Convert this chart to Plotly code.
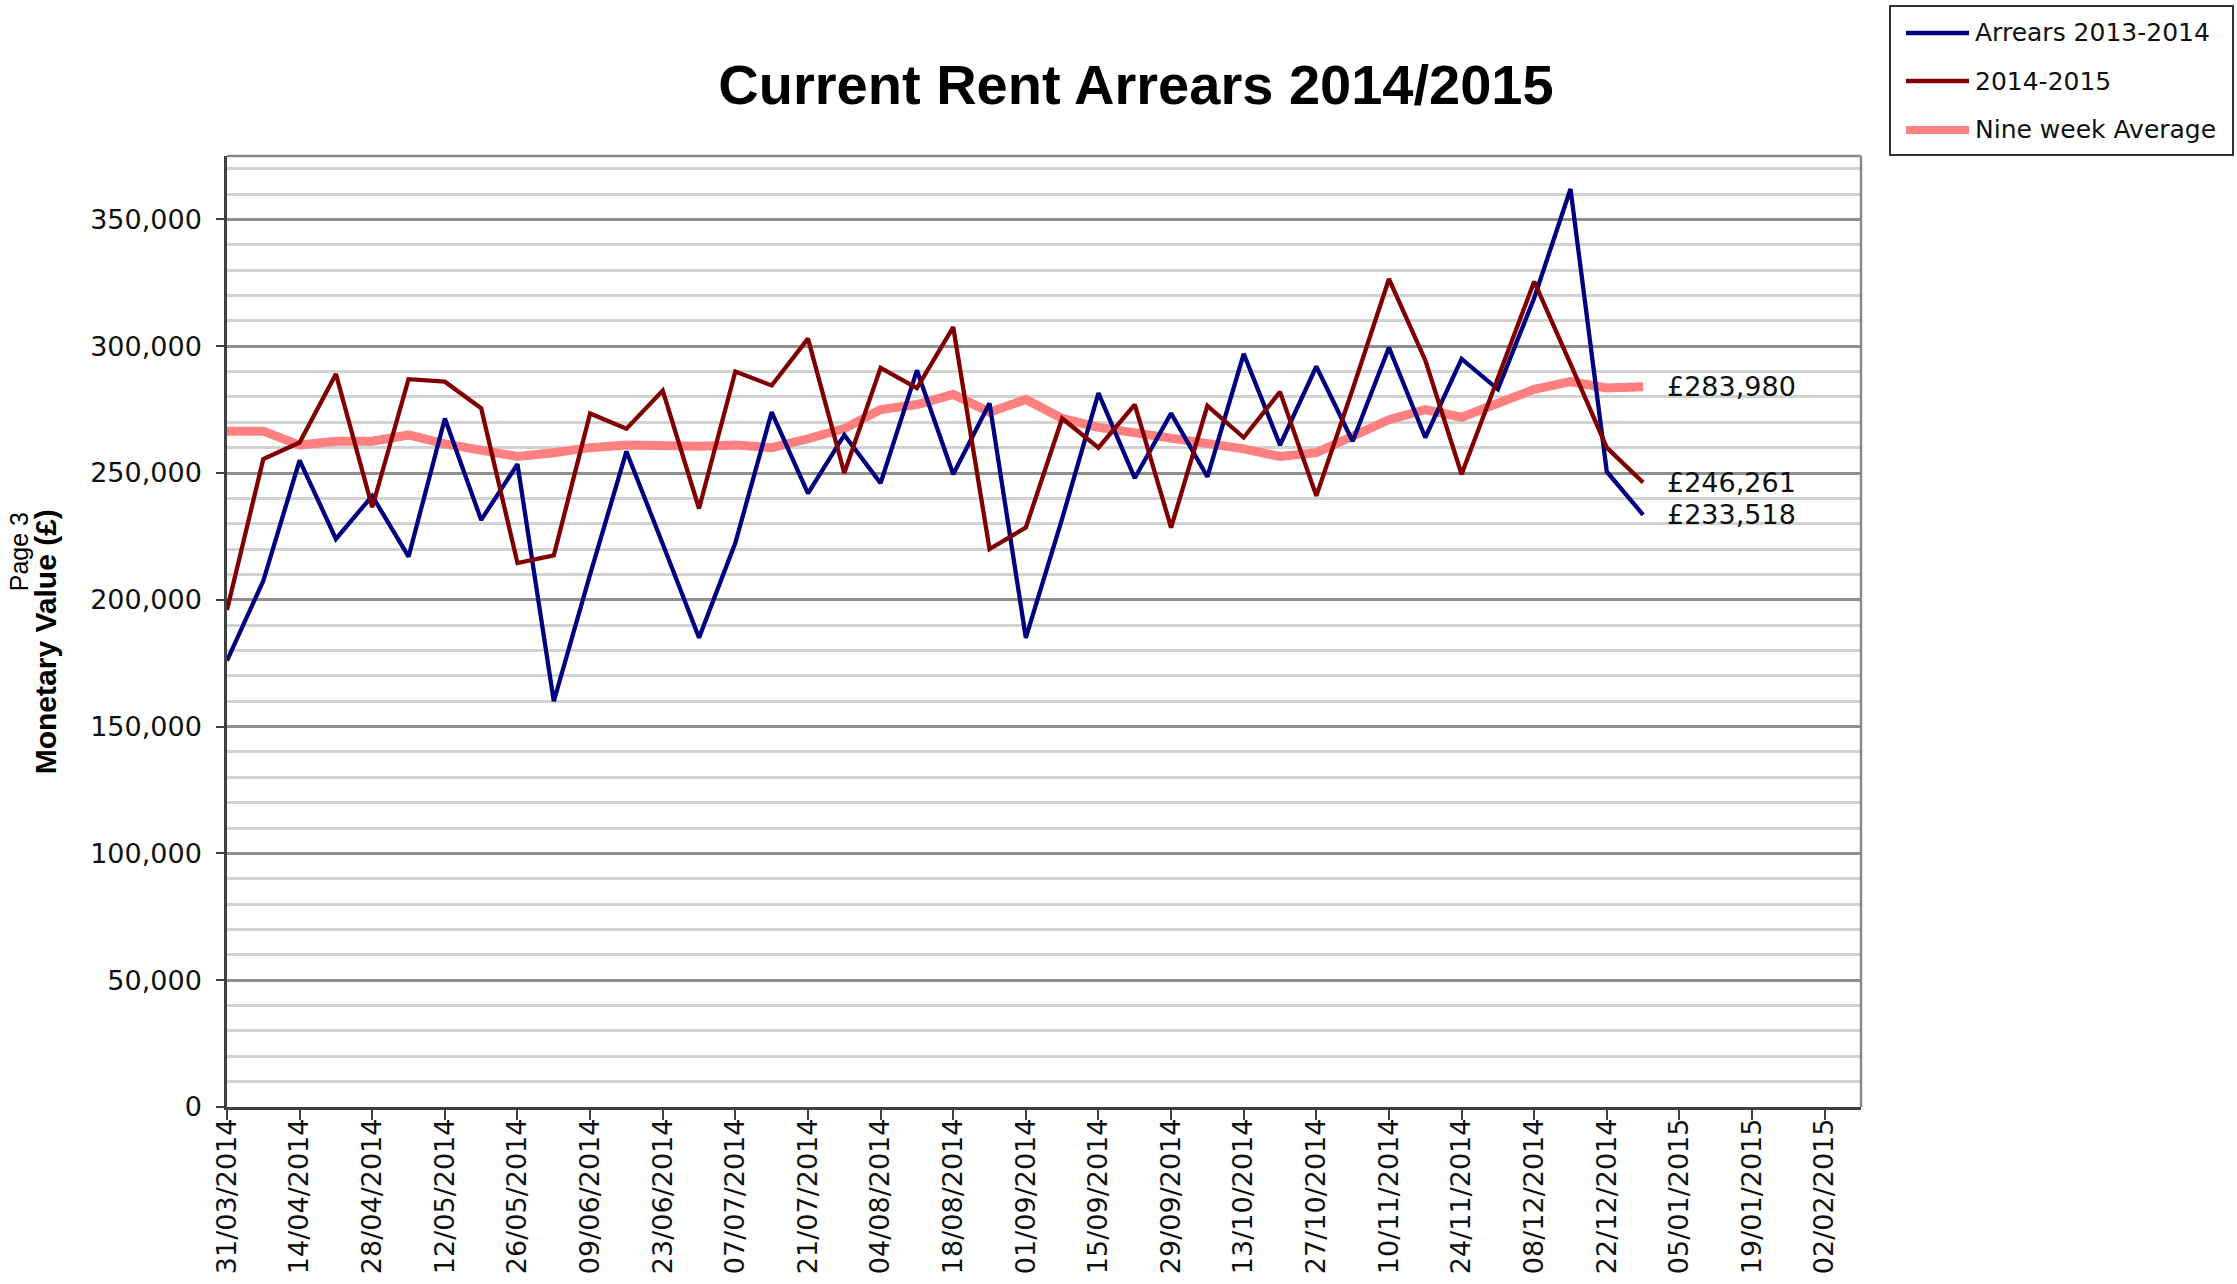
import pandas as pd
import plotly.graph_objects as go

# ---- data ----
start_date = "2014-03-31"
n_weeks = 40
weeks = pd.date_range(start_date, periods=n_weeks, freq="7D")

arrears_2013_2014 = [176000, 207500, 255000, 224000, 241000, 217000, 271500, 231500, 253500, 160000,
                     210000, 258500, 222000, 185000, 222500, 274000, 242000, 265000, 246000, 290500,
                     249500, 277500, 185000, 232000, 281500, 248000, 273500, 248500, 297000, 261000,
                     292000, 262500, 299500, 264000, 295000, 283000, 319000, 362000, 250500, 233518]

arrears_2014_2015 = [196000, 255500, 262000, 289000, 236500, 287000, 286000, 275500, 214500, 217500,
                     273500, 267500, 282500, 236000, 290000, 284500, 303000, 250000, 291500, 283500,
                     307500, 220000, 228500, 271500, 260000, 277000, 228500, 276500, 264000, 282000,
                     241000, 283000, 326500, 294500, 249500, 287000, 325500, 293000, 260000, 246261]

nine_week_average = [266500, 266500, 261000, 262500, 262500, 265000, 261500, 259000, 256500, 258000,
                     260000, 261000, 260500, 260500, 261000, 260000, 263500, 267500, 275000, 277000,
                     281000, 274000, 279000, 271500, 268000, 266000, 263500, 261500, 259500, 256500,
                     258000, 264500, 271000, 275000, 272000, 277500, 283000, 286000, 283500, 283980]

series_names = ["Arrears 2013-2014", "2014-2015", "Nine week Average"]
series_colors = ["#000080", "#800000", "#FF8080"]
series_widths = [4.3, 4.3, 9]
x_range = ["2014-03-31", "2015-02-09"]
y_max = 375000

TICK_FONT = "DejaVu Sans"
TITLE_FONT = "Liberation Sans, Arial, sans-serif"

W, H = 2237, 1284
ML, MR, MT, MB = 227, 376, 156, 177
PW, PH = W - ML - MR, H - MT - MB


def px_x(X):
    return (X - ML) / PW


def px_y(Y):
    return (H - MB - Y) / PH


fig = go.Figure()

# pink average drawn first (underneath)
for i in (2, 0, 1):
    vals = (arrears_2013_2014, arrears_2014_2015, nine_week_average)[i]
    fig.add_trace(go.Scatter(x=weeks, y=vals, mode="lines", name=series_names[i],
                             line=dict(color=series_colors[i], width=series_widths[i]),
                             showlegend=False))

# end-of-line value labels
for vals in (nine_week_average, arrears_2014_2015, arrears_2013_2014):
    fig.add_annotation(x=weeks[-1], y=vals[-1], text=f"£{vals[-1]:,.0f}", showarrow=False,
                       xanchor="left", yanchor="middle", xshift=22,
                       font=dict(family=TICK_FONT, size=27, color="#111111"))

# y-axis title and page marker
fig.add_annotation(xref="paper", yref="paper", x=-0.1114, y=0.4897, text="<b>Monetary Value (£)</b>",
                   textangle=-90, showarrow=False, xanchor="center", yanchor="middle",
                   font=dict(family=TITLE_FONT, size=30, color="#000000"))
fig.add_annotation(xref="paper", yref="paper", x=-0.1275, y=0.584, text="Page 3",
                   textangle=-90, showarrow=False, xanchor="center", yanchor="middle",
                   font=dict(family=TITLE_FONT, size=25, color="#000000"))

# top / right border of plot area
fig.add_shape(type="line", xref="paper", yref="paper", x0=0, x1=1, y0=1, y1=1,
              line=dict(color="#8a8a8a", width=2.5))
fig.add_shape(type="line", xref="paper", yref="paper", x0=1, x1=1, y0=0, y1=1,
              line=dict(color="#8a8a8a", width=2.5))

# legend box (drawn in paper space, top right)
fig.add_shape(type="rect", xref="paper", yref="paper", x0=px_x(1890), x1=px_x(2233),
              y0=px_y(155), y1=px_y(6), line=dict(color="#333333", width=2), fillcolor="white")
legend_rows = [33, 81, 130]
for i, yrow in enumerate(legend_rows):
    fig.add_shape(type="line", xref="paper", yref="paper", x0=px_x(1906), x1=px_x(1969),
                  y0=px_y(yrow), y1=px_y(yrow),
                  line=dict(color=series_colors[i], width=min(series_widths[i], 8)))
    fig.add_annotation(xref="paper", yref="paper", x=px_x(1973), y=px_y(yrow), text=series_names[i],
                       showarrow=False, xanchor="left", yanchor="middle",
                       font=dict(family=TICK_FONT, size=25, color="#111111"))

fig.update_layout(
    width=W, height=H,
    margin=dict(l=ML, r=MR, t=MT, b=MB, autoexpand=False),
    paper_bgcolor="white", plot_bgcolor="white",
    title=dict(text="<b>Current Rent Arrears 2014/2015</b>", xref="paper", x=0.5563, xanchor="center",
               yref="container", y=0.9346, yanchor="middle",
               font=dict(family=TITLE_FONT, size=56, color="#000000")),
    showlegend=False,
)

fig.update_xaxes(type="date", range=x_range, tick0=start_date, dtick=14 * 86400000,
                 tickformat="%d/%m/%Y", tickangle=-90, ticks="outside", ticklen=10, tickwidth=2,
                 tickcolor="#404040", showline=True, linecolor="#404040", linewidth=2.5,
                 showgrid=False, zeroline=False, automargin=False, ticklabelstandoff=-12,
                 tickfont=dict(family=TICK_FONT, size=27, color="#111111"))

fig.update_yaxes(range=[0, y_max], dtick=50000, tick0=0, tickformat=",d", ticks="outside",
                 ticklen=8, tickwidth=2, tickcolor="#404040", showline=True, linecolor="#404040",
                 linewidth=2.5, showgrid=True, gridcolor="#8f8f8f", gridwidth=2.5, zeroline=False,
                 automargin=False, ticklabelstandoff=9,
                 minor=dict(dtick=10000, showgrid=True, gridcolor="#d2d2d2", gridwidth=2.5),
                 tickfont=dict(family=TICK_FONT, size=27, color="#111111"))

fig.write_html("out.html", config={"displayModeBar": False},
               post_script="document.body.style.margin='0px';document.body.style.overflow='hidden';")
